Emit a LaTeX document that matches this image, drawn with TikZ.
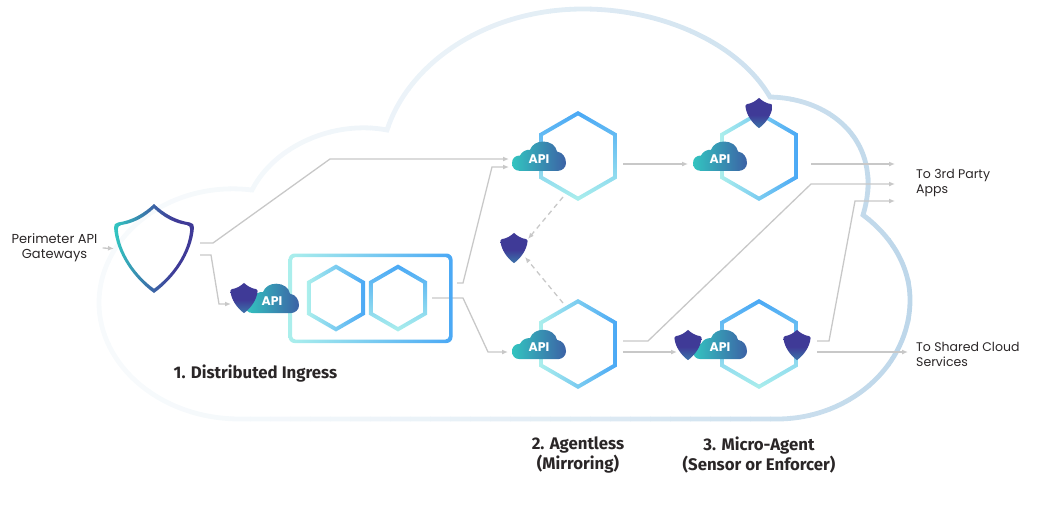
\documentclass[tikz,border=0pt]{standalone}
\usepackage{fontspec}
\setmainfont{Poppins}
\newfontfamily\headfont{Fira Sans}
\usetikzlibrary{arrows.meta}

\definecolor{hexBlue}{HTML}{4AA8F5}
\definecolor{hexMid}{HTML}{7FE0EE}
\definecolor{hexPale}{HTML}{ABEFEC}
\definecolor{cloudLeft}{HTML}{F7FAFC}
\definecolor{cloudRight}{HTML}{BCD6E9}
\definecolor{shieldTop}{HTML}{3F3A97}
\definecolor{shieldLow}{HTML}{3C68A6}
\definecolor{apiLeft}{HTML}{33C4C0}
\definecolor{apiRight}{HTML}{3C62A5}
\definecolor{lineGrey}{HTML}{C8C8C8}
\definecolor{textDark}{HTML}{2A2627}

\pgfdeclareverticalshading{shieldfill}{100bp}{color(0bp)=(shieldLow); color(30bp)=(shieldLow); color(47bp)=(shieldTop); color(100bp)=(shieldTop)}
\pgfdeclarehorizontalshading{gatefill}{100bp}{color(0bp)=(apiLeft); color(26bp)=(apiLeft); color(50bp)=(apiRight); color(63bp)=(shieldTop); color(100bp)=(shieldTop)}

\tikzset{
  conn/.style={draw=lineGrey,line width=1.3pt,-{Latex[length=6pt,width=5pt]}},
  dashconn/.style={conn,dash pattern=on 5pt off 4pt},
  sidetext/.style={align=left,anchor=west,inner sep=0pt,text=textDark,font=\fontsize{12.5}{15}\selectfont},
  headtext/.style={align=center,inner sep=0pt,text=textDark,font=\headfont\bfseries\fontsize{16.8}{20}\selectfont},
  apitext/.style={inner sep=0pt,text=white,font=\fontsize{12.5}{12.5}\selectfont\bfseries},
}

% outline of the big cloud
\newcommand{\cloudpath}{(240,419) -- (777,419)
  .. controls (850,419) and (910,365) .. (910,300)
  .. controls (910,265) and (890,235) .. (863,215)
  .. controls (866,205) and (868,195) .. (868,183)
  .. controls (868,130) and (822,98) .. (770,97)
  .. controls (740,45) and (665,9) .. (583,9)
  .. controls (490,9) and (410,60) .. (387,130)
  .. controls (335,120) and (275,145) .. (252,190)
  .. controls (170,180) and (99,235) .. (99,303)
  .. controls (99,365) and (160,419) .. (240,419) -- cycle}
\newcommand{\hexpath}[1]{(0,{-(#1)}) -- ({.866*(#1)},{-.5*(#1)}) -- ({.866*(#1)},{.5*(#1)}) -- (0,{#1}) -- ({-.866*(#1)},{.5*(#1)}) -- ({-.866*(#1)},{-.5*(#1)}) -- cycle}
\newcommand{\shieldpath}{(0,-44.5)
  .. controls (-10,-35) and (-22,-28) .. (-36,-26)
  .. controls (-39,-25.5) and (-40,-24) .. (-40,-21)
  .. controls (-38,5) and (-20,30) .. (0,44.5)
  .. controls (20,30) and (38,5) .. (40,-21)
  .. controls (40,-24) and (39,-25.5) .. (36,-26)
  .. controls (22,-28) and (10,-35) .. (0,-44.5) -- cycle}
% name, centre, radius, shading
\newcommand{\hexring}[4]{
  \coordinate (#1) at (#2);
  \begin{scope}[shift={(#1)}]
    \shade[even odd rule,#4] \hexpath{#3} \hexpath{#3-4.5};
  \end{scope}
}
% name, centre
\newcommand{\apicloud}[2]{
  \coordinate (#1) at (#2);
  \begin{scope}[shift={(#1)}]
    \shade[left color=apiLeft,right color=apiRight]
      (-19.7,14.3) .. controls (-24,14.3) and (-27,11) .. (-27,6.7)
      .. controls (-27,2) and (-24,-1) .. (-19,-1)
      .. controls (-17,-5) and (-13,-7) .. (-9,-6.7)
      .. controls (-7,-12) and (-2,-15) .. (4.3,-15)
      .. controls (11,-15) and (17,-11) .. (18,-5)
      .. controls (24,-4) and (27,1) .. (27,6.7)
      .. controls (27,11) and (23,14.3) .. (19.3,14.3) -- cycle;
    \node[apitext] (#1text) at (0,2.5) {API};
  \end{scope}
}
% name, centre
\newcommand{\minishield}[2]{
  \coordinate (#1) at (#2);
  \begin{scope}[shift={(#1)},scale=.34]
    \shade[shading=shieldfill] \shieldpath;
  \end{scope}
}

\begin{document}
\begin{tikzpicture}[x=1pt,y=-1pt]
  \useasboundingbox (0,0) rectangle (1038,522);

  % big cloud, coloured in strips from left to right
  \foreach \i in {0,...,41}{
    \pgfmathsetmacro{\mix}{100*(\i/41)^1.7}
    \begin{scope}
      \clip ({90+20*\i},0) rectangle ({90+20*\i+20.5},522);
      \draw[draw=cloudRight!\mix!cloudLeft,line width=4.8pt,line join=miter] \cloudpath;
    \end{scope}
  }

  % anchors of the stages
  \coordinate (gateShield) at (154,248.5);
  \coordinate (hexLeft) at (336,298);
  \coordinate (hexRight) at (398,298);
  \coordinate (ingressBox) at (370,298);
  \coordinate (apiIngress) at (272,298.7);
  \coordinate (apiA) at (539,156.5);
  \coordinate (apiB) at (539,344.8);
  \coordinate (apiC) at (720,156.5);
  \coordinate (apiD) at (720,344.8);
  \coordinate (hexA) at (578,156);
  \coordinate (hexB) at (578,344);
  \coordinate (hexC) at (759,156);
  \coordinate (hexD) at (759,344);
  \coordinate (shieldMirror) at (514,248);
  \coordinate (outA) at (895,164);
  \coordinate (outB) at (895,184);
  \coordinate (outC) at (895,201);
  \coordinate (outD) at (908,352);

  % labels
  \node[sidetext,align=center,anchor=center,font=\fontsize{13}{15}\selectfont] (gateLabel) at (54.5,248) {Perimeter API\\Gateways};
  \node[sidetext] (thirdLabel) at (916,182.5) {To 3rd Party\\Apps};
  \node[sidetext] (sharedLabel) at (916,354) {To Shared Cloud\\Services};
  \node[headtext] (ingressLabel) at (255.5,373.5) {1. Distributed Ingress};
  \node[headtext] (mirrorLabel) at (578,455) {2. Agentless\\(Mirroring)};
  \node[headtext] (agentLabel) at (759,455) {3. Micro-Agent\\(Sensor or Enforcer)};

  % connectors
  \draw[conn] ([shift={(5,0)}]gateLabel.east) -- ([xshift=-40pt]gateShield);
  \draw[conn] ([shift={(46,-5.5)}]gateShield) -- ++(13,0) -- (330,159) -- ([shift={(-30,2.5)}]apiA);
  \draw[conn] ([shift={(46,6.5)}]gateShield) -- ++(11,0) -- (219,304) -- ([shift={(-41,5.3)}]apiIngress);
  \draw[conn] ([shift={(87,-15)}]ingressBox) -- ++(6,0) -- (492,167) -- ([shift={(-30,10.5)}]apiA);
  \draw[conn] ([xshift=34pt]hexRight) -- (463,298) -- (488,352) -- ([shift={(-31,7.2)}]apiB);
  \draw[conn] ([shift={(45,8)}]hexA) -- ([shift={(-32,7.5)}]apiC);
  \draw[conn] ([shift={(52,8)}]hexC) -- (outA);
  \draw[conn] ([shift={(45,-3)}]hexB) -- ++(25,0) -- (811,184) -- (outB);
  \draw[conn] ([shift={(45,8)}]hexB) -- ([shift={(-43,7.2)}]apiD);
  \draw[conn] ([shift={(58,-3)}]hexD) -- ++(12,0) -- (855,201) -- (outC);
  \draw[conn] ([shift={(58,8)}]hexD) -- (outD);
  \draw[dashconn] ([shift={(-15,41)}]hexA) -- ([shift={(14,-9)}]shieldMirror);
  \draw[dashconn] ([shift={(-15,-41)}]hexB) -- ([shift={(11,9)}]shieldMirror);

  % first stage
  \shade[even odd rule,left color=hexPale,middle color=hexMid,right color=hexBlue]
    [rounded corners=6pt] (288.5,253.5) rectangle (452.5,343)
    [rounded corners=3.5pt] (292,257) rectangle (449,339.5);
  \hexring{hexLeft}{336,298}{33.5}{left color=hexPale,middle color=hexMid,right color=hexBlue}
  \hexring{hexRight}{398,298}{33.5}{top color=hexBlue,middle color=hexMid,bottom color=hexPale}
  \apicloud{apiIngress}{272,298.7}
  \minishield{shieldIngress}{244,298}

  % big gateway shield
  \begin{scope}[shift={(gateShield)}]
    \shade[even odd rule,shading=gatefill]
      \shieldpath
      [scale=.905] \shieldpath;
  \end{scope}

  % second and third stage
  \hexring{hexA}{578,156}{45}{top color=hexBlue,middle color=hexBlue!40!hexPale,bottom color=hexPale}
  \hexring{hexB}{578,344}{45}{left color=hexPale,middle color=hexMid,right color=hexBlue}
  \hexring{hexC}{759,156}{45}{left color=hexPale,middle color=hexMid,right color=hexBlue}
  \hexring{hexD}{759,344}{45}{top color=hexBlue,middle color=hexMid,bottom color=hexPale}
  \apicloud{apiA}{539,156.5}
  \apicloud{apiB}{539,344.8}
  \apicloud{apiC}{720,156.5}
  \apicloud{apiD}{720,344.8}
  \minishield{shieldMirror}{514,248}
  \minishield{shieldC}{759,113}
  \minishield{shieldDleft}{688,345}
  \minishield{shieldDright}{797,345}
\end{tikzpicture}
\end{document}
